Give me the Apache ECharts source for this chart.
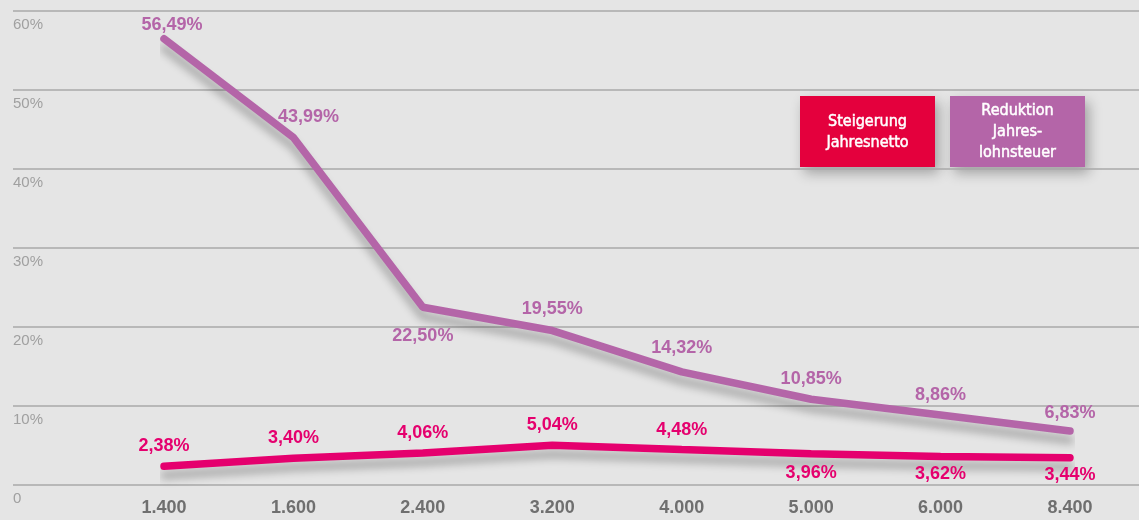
<!DOCTYPE html>
<html>
<head>
<meta charset="utf-8">
<script src="https://cdn.jsdelivr.net/npm/echarts@6/dist/echarts.min.js"></script>
<style>
  html, body { margin: 0; padding: 0; background: #e5e5e5; }
  #main { width: 1139px; height: 520px; }
</style>
</head>
<body>
<div id="main"></div>
<script>
// Einkommensstufen (x-Achse)
var categories = ['1.400', '1.600', '2.400', '3.200', '4.000', '5.000', '6.000', '8.400'];
// Reduktion Jahreslohnsteuer in %
var reduktion = [56.49, 43.99, 22.50, 19.55, 14.32, 10.85, 8.86, 6.83];
// Steigerung Jahresnetto in %
var steigerung = [2.38, 3.40, 4.06, 5.04, 4.48, 3.96, 3.62, 3.44];
// Label unter der Linie?
var reduktionBelow = [false, false, true, false, false, false, false, false];
var steigerungBelow = [false, false, false, false, false, true, true, true];
// kleine Verschiebung der Labels [x, y]
var reduktionShift = [[8, 6], [15, 0], [0, 6], [0, -2], [0, -4], [0, 0], [0, 0], [0, 2]];
var steigerungShift = [[0, 0], [0, 0], [0, 0], [0, 0], [0, 0], [0, -4], [0, -5], [0, -6]];

var pink = '#e5006e';
var purple = '#b465a8';

function fmt(v) {
  return v.toFixed(2).replace('.', ',') + '%';
}

function buildData(values, below, shift) {
  return values.map(function (v, i) {
    return {
      value: v,
      label: {
        position: below[i] ? 'bottom' : 'top',
        distance: below[i] ? 13 : 10,
        offset: shift[i]
      }
    };
  });
}

function lineSeries(name, values, below, shift, color) {
  return {
    name: name,
    type: 'line',
    xAxisIndex: 1,
    yAxisIndex: 1,
    data: buildData(values, below, shift),
    symbol: 'circle',
    symbolSize: 2,
    itemStyle: { color: color },
    lineStyle: {
      color: color,
      width: 7.5,
      cap: 'round',
      shadowColor: 'rgba(0,0,0,0.28)',
      shadowBlur: 8,
      shadowOffsetY: 9
    },
    label: {
      show: true,
      color: color,
      fontFamily: 'Liberation Sans',
      fontWeight: 'bold',
      fontSize: 18,
      formatter: function (p) { return fmt(p.value); }
    }
  };
}

var myChart = echarts.init(document.getElementById('main'));

var option = {
  backgroundColor: '#e5e5e5',
  animation: false,
  grid: [
    { left: 13, right: 0, top: 11, bottom: 35 },
    { left: 164, right: 69, top: 11, bottom: 35 }
  ],
  xAxis: [
    { gridIndex: 0, type: 'value', show: false, min: 0, max: 1 },
    {
      gridIndex: 1,
      type: 'category',
      data: categories,
      boundaryGap: false,
      axisLine: { show: false },
      axisTick: { show: false },
      axisLabel: {
        margin: 14,
        color: '#6f6f6f',
        fontFamily: 'Liberation Sans',
        fontWeight: 'bold',
        fontSize: 18
      }
    }
  ],
  yAxis: [
    {
      gridIndex: 0,
      type: 'value',
      min: 0,
      max: 60,
      interval: 10,
      axisLine: { show: false },
      axisTick: { show: false },
      splitLine: { lineStyle: { color: '#a9a9a9', width: 1.5 } },
      axisLabel: {
        inside: true,
        margin: 0,
        verticalAlign: 'top',
        padding: [6, 0, 0, 0],
        color: '#a0a0a0',
        fontFamily: 'Liberation Sans',
        fontSize: 15,
        formatter: function (v) { return v === 0 ? '0' : v + '%'; }
      }
    },
    { gridIndex: 1, type: 'value', min: 0, max: 60, show: false }
  ],
  series: [
    lineSeries('Reduktion Jahreslohnsteuer', reduktion, reduktionBelow, reduktionShift, purple),
    lineSeries('Steigerung Jahresnetto', steigerung, steigerungBelow, steigerungShift, pink)
  ],
  graphic: [
    {
      type: 'group',
      left: 800,
      top: 96,
      children: [
        {
          type: 'rect',
          shape: { x: 0, y: 0, width: 135, height: 71 },
          style: { fill: '#e4003d', shadowColor: 'rgba(0,0,0,0.3)', shadowBlur: 12, shadowOffsetX: 4, shadowOffsetY: 6 }
        },
        {
          type: 'text',
          x: 67.5,
          y: 36,
          style: {
            text: 'Steigerung\nJahresnetto',
            fill: '#fff',
            stroke: '#fff',
            lineWidth: 0.5,
            align: 'center',
            verticalAlign: 'middle',
            fontFamily: 'DejaVu Sans Condensed',
            fontSize: 16,
            lineHeight: 21
          }
        }
      ]
    },
    {
      type: 'group',
      left: 950,
      top: 96,
      children: [
        {
          type: 'rect',
          shape: { x: 0, y: 0, width: 135, height: 71 },
          style: { fill: purple, shadowColor: 'rgba(0,0,0,0.3)', shadowBlur: 12, shadowOffsetX: 4, shadowOffsetY: 6 }
        },
        {
          type: 'text',
          x: 67.5,
          y: 36,
          style: {
            text: 'Reduktion\nJahres-\nlohnsteuer',
            fill: '#fff',
            stroke: '#fff',
            lineWidth: 0.5,
            align: 'center',
            verticalAlign: 'middle',
            fontFamily: 'DejaVu Sans Condensed',
            fontSize: 16,
            lineHeight: 21
          }
        }
      ]
    }
  ]
};

myChart.setOption(option);
</script>
</body>
</html>
